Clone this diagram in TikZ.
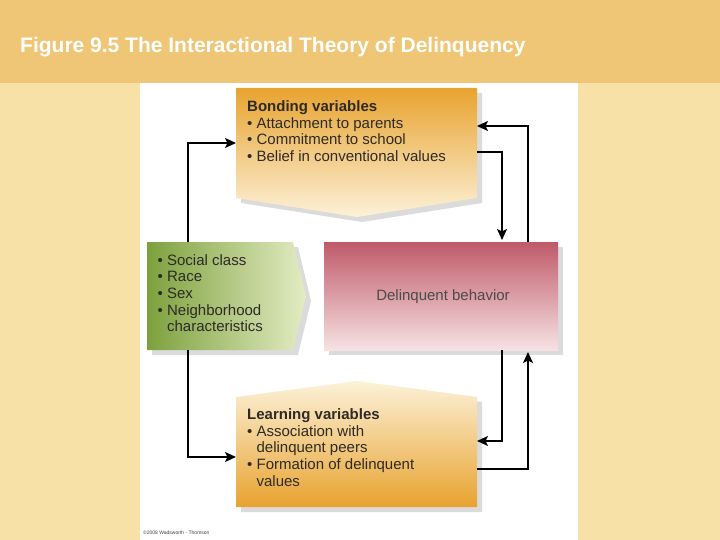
\documentclass[tikz,border=0pt]{standalone}
\usepackage{fontspec}
\setmainfont{Liberation Sans}
\usetikzlibrary{calc,arrows.meta,shadows}
\definecolor{bandc}{HTML}{EFC676}
\definecolor{bgc}{HTML}{F7E1A6}
\definecolor{orD}{HTML}{E8A32F}
\definecolor{orM}{HTML}{F0BA58}
\definecolor{orL}{HTML}{FCF1D8}
\definecolor{rdD}{HTML}{C05A69}
\definecolor{rdM}{HTML}{D3838F}
\definecolor{rdL}{HTML}{F6E2E3}
\definecolor{grD}{HTML}{7DA13D}
\definecolor{grL}{HTML}{E3ECC4}
\definecolor{txt}{HTML}{2E2A26}
\tikzset{
  box/.style={drop shadow={opacity=0.28,shadow xshift=5pt,shadow yshift=-5pt}},
  holder/.style={inner sep=0pt,outer sep=0pt},
  lbl/.style={anchor=north west,align=left,inner sep=0pt,text=txt,font=\fontsize{15}{16.7}\selectfont},
  arr/.style={line width=1.6pt,-{Stealth[length=11pt,width=10pt,inset=2.5pt]}},
}
\begin{document}
\begin{tikzpicture}[x=1pt,y=-1pt]
\useasboundingbox (0,0) rectangle (720,540);
% background
\fill[bgc] (0,0) rectangle (720,540);
\fill[bandc] (0,0) rectangle (720,83);
\fill[white] (140,83) rectangle (578,540);
\node[anchor=base west,inner sep=0pt,text=white,font=\fontsize{21}{22}\selectfont\bfseries] (title) at (20,53) {Figure 9.5 The Interactional Theory of Delinquency};
% shapes
\path[box,top color=orD,middle color=orM,bottom color=orL] (236,88)--(477,88)--(477,198)--(357,217)--(236,198)--cycle;
\path[box,left color=grD,right color=grL] (147,242)--(293,242)--(306,296)--(293,350)--(147,350)--cycle;
\path[box,top color=rdD,middle color=rdM,bottom color=rdL] (324,242) rectangle (558,350);
\path[box,top color=orL,middle color=orM,bottom color=orD] (236,397)--(357,381)--(477,397)--(477,507)--(236,507)--cycle;
% holder nodes
\node[holder,minimum width=241pt,minimum height=110pt] (bond) at (356.5,143) {};
\node[holder,minimum width=146pt,minimum height=108pt] (green) at (220,296) {};
\node[holder,minimum width=234pt,minimum height=108pt] (red) at (441,296) {};
\node[holder,minimum width=241pt,minimum height=110pt] (learn) at (356.5,452) {};
% texts
\node[lbl] (bondtxt) at (247,100.5) {\textbf{Bonding variables}\\
• Attachment to parents\\
• Commitment to school\\
• Belief in conventional values};
\node[lbl] (greentxt) at (157.5,254) {• Social class\\
• Race\\
• Sex\\
• Neighborhood\\
\phantom{• }characteristics};
\node[text=txt!85,font=\fontsize{15}{16}\selectfont] (redtxt) at (443,297) {Delinquent behavior};
\node[lbl] (learntxt) at (247,408.5) {\textbf{Learning variables}\\
• Association with\\
\phantom{• }delinquent peers\\
• Formation of delinquent\\
\phantom{• }values};
\node[anchor=base west,inner sep=0pt,text=black!75,font=\fontsize{5}{6}\selectfont] (copy) at (143,534) {©2008 Wadsworth - Thomson};
% connectors
\draw[arr] ($(green.north west)+(41,0)$) |- (bond.west);
\draw[arr] ($(green.south west)+(41,0)$) |- ($(learn.west)+(0,5)$);
\draw[arr] ($(red.north west)+(204,0)$) |- ($(bond.east)+(0,-17)$);
\draw[arr] ($(bond.east)+(0,9)$) -| ($(red.north west)+(178,-2)$);
\draw[arr] ($(red.south west)+(178,0)$) |- ($(learn.east)+(0,-11)$);
\draw[arr] ($(learn.east)+(0,17)$) -| ($(red.south west)+(204,2)$);
\end{tikzpicture}
\end{document}
